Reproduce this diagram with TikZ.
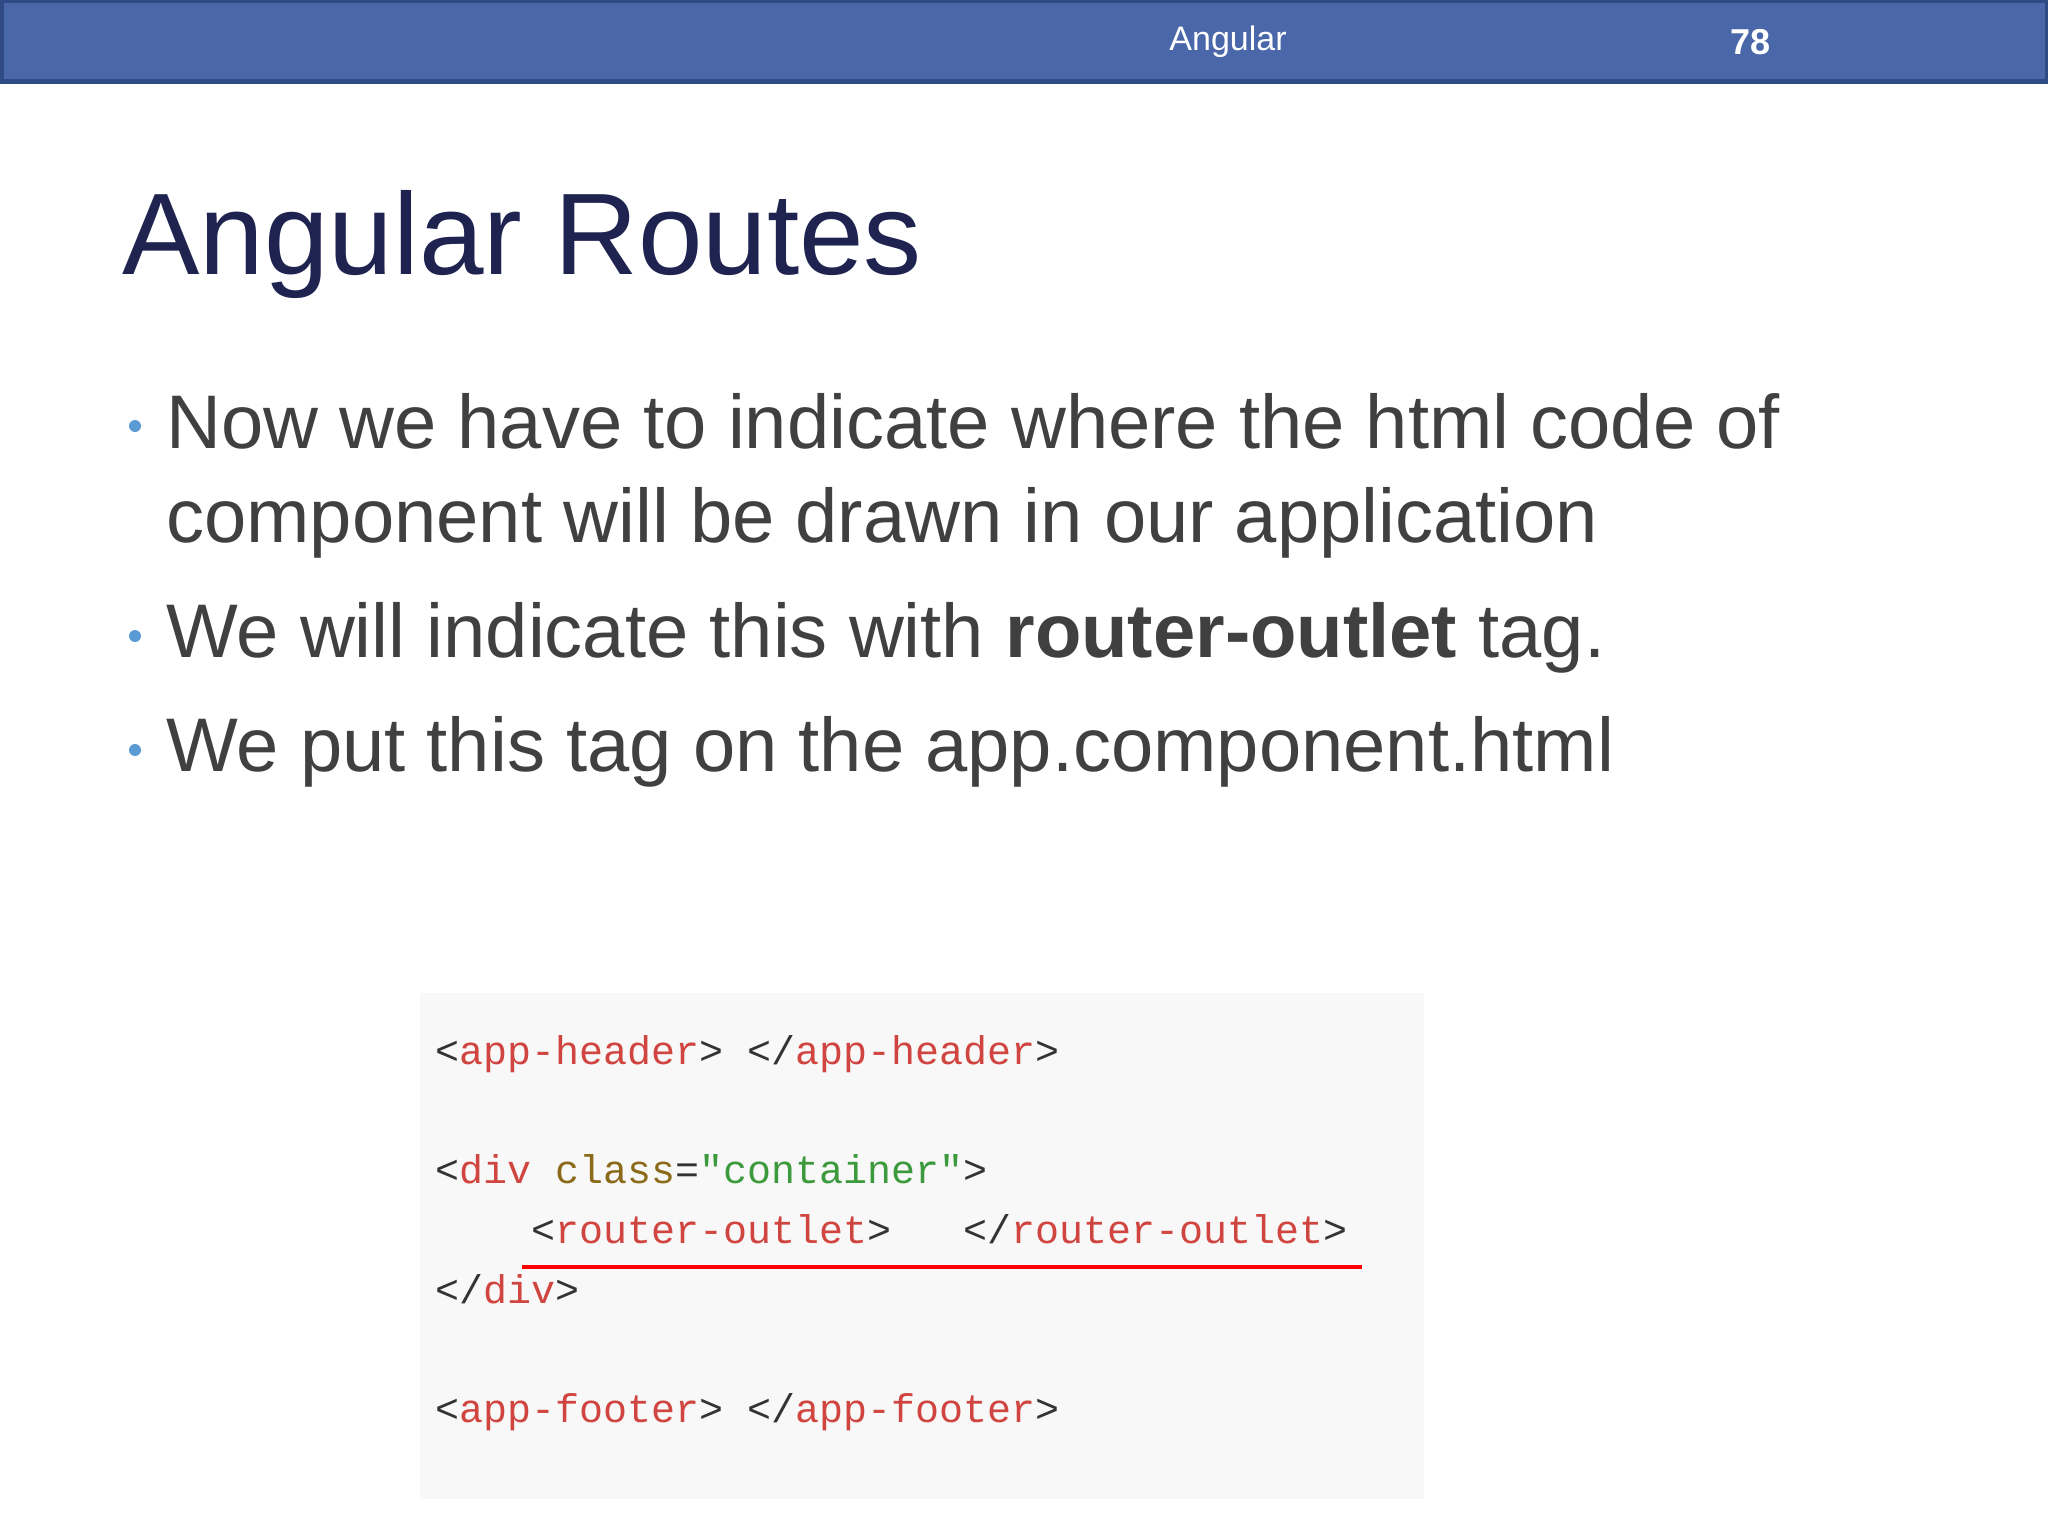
\documentclass[tikz,border=0pt]{standalone}
\usepackage{fontspec}
\setmainfont{Liberation Sans}
\newfontfamily\codefont{Liberation Mono}
\definecolor{barblue}{HTML}{4A67AA}
\definecolor{barborder}{HTML}{2F4A85}
\definecolor{titlec}{HTML}{1F2350}
\definecolor{bodyc}{HTML}{404040}
\definecolor{bulletc}{HTML}{5B9BD5}
\definecolor{tagc}{HTML}{D0453F}
\definecolor{brk}{HTML}{333333}
\definecolor{attrc}{HTML}{8B6A1A}
\definecolor{strc}{HTML}{3C9A3C}
\definecolor{codebg}{HTML}{F8F8F8}
\newcommand{\tg}[1]{\textcolor{tagc}{#1}}
\newcommand{\bk}[1]{\textcolor{brk}{#1}}
\begin{document}
\begin{tikzpicture}[x=0.5pt,y=-0.5pt,
  bodytxt/.style={anchor=base west,inner sep=0,text=bodyc,font=\fontsize{38}{44}\selectfont},
  bul/.style={circle,fill=bulletc,inner sep=0,minimum size=6pt},
  codetxt/.style={anchor=base west,inner sep=0,font=\codefont\fontsize{20}{24}\selectfont}]
\useasboundingbox (0,0) rectangle (2048,1536);
\fill[white] (0,0) rectangle (2048,1536);
\draw[fill=barblue,draw=barborder,line width=2.5pt] (1,1) rectangle (2047,82);
\node[text=white,font=\fontsize{17}{20}\selectfont] (hdr) at (1228,42) {Angular};
\node[text=white,font=\bfseries\fontsize{18}{20}\selectfont] (num) at (1750,42) {78};
\node[anchor=base west,inner sep=0,text=titlec,font=\fontsize{58}{66}\selectfont] (title) at (122,274) {Angular Routes};
\node[bul] (b1) at (135,426) {};
\node[bodytxt] (l1) at (166,448) {Now we have to indicate where the html code of};
\node[bodytxt] (l2) at (166,542) {component will be drawn in our application};
\node[bul] (b2) at (135,636) {};
\node[bodytxt] (l3) at (166,657) {We will indicate this with \textbf{router-outlet} tag.};
\node[bul] (b3) at (135,750) {};
\node[bodytxt] (l4) at (166,771) {We put this tag on the app.component.html};
\fill[codebg] (420,993) rectangle (1424,1499);
\node[codetxt] (c1) at (435,1064) {\bk{<}\tg{app-header}\bk{>} \bk{</}\tg{app-header}\bk{>}};
\node[codetxt] (c2) at (435,1183) {\bk{<}\tg{div} \textcolor{attrc}{class}\bk{=}\textcolor{strc}{"container"}\bk{>}};
\node[codetxt] (c3) at (531,1243) {\bk{<}\tg{router-outlet}\bk{>}\ \ \ \bk{</}\tg{router-outlet}\bk{>}};
\node[codetxt] (c4) at (435,1303) {\bk{</}\tg{div}\bk{>}};
\node[codetxt] (c5) at (435,1422) {\bk{<}\tg{app-footer}\bk{>} \bk{</}\tg{app-footer}\bk{>}};
\draw[red,line width=2pt] (522,1267) -- (1362,1267);
\end{tikzpicture}
\end{document}
